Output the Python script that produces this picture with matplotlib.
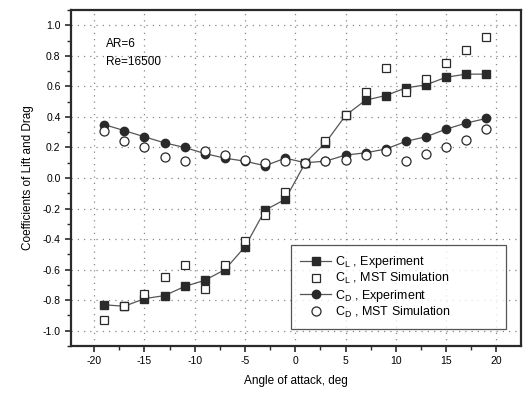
import numpy as np
import matplotlib
matplotlib.use('Agg')
import matplotlib.pyplot as plt
from matplotlib.ticker import MultipleLocator

plt.rcParams['font.family'] = ['Liberation Sans', 'DejaVu Sans']
plt.rcParams['axes.unicode_minus'] = False
plt.rcParams['mathtext.fontset'] = 'custom'
plt.rcParams['mathtext.rm'] = 'Liberation Sans'

# Angle of attack, deg
angle = [-19, -17, -15, -13, -11, -9, -7, -5, -3, -1,
         1, 3, 5, 7, 9, 11, 13, 15, 17, 19]

# Lift coefficient
cl_exp = [-0.83, -0.84, -0.79, -0.77, -0.71, -0.67, -0.60, -0.45, -0.21, -0.14,
          0.10, 0.23, 0.41, 0.51, 0.54, 0.59, 0.61, 0.66, 0.68, 0.68]
cl_sim = [-0.93, -0.84, -0.76, -0.65, -0.57, -0.73, -0.57, -0.41, -0.24, -0.09,
          0.10, 0.24, 0.41, 0.56, 0.72, 0.56, 0.65, 0.75, 0.84, 0.92]

# Drag coefficient
cd_exp = [0.35, 0.31, 0.27, 0.23, 0.20, 0.16, 0.13, 0.11, 0.08, 0.13,
          0.10, 0.11, 0.15, 0.165, 0.19, 0.24, 0.27, 0.32, 0.36, 0.39]
cd_sim = [0.31, 0.24, 0.20, 0.14, 0.11, 0.18, 0.15, 0.12, 0.10, 0.11,
          0.10, 0.11, 0.12, 0.15, 0.18, 0.11, 0.16, 0.20, 0.25, 0.32]

fig = plt.figure(figsize=(5.24, 4.0), dpi=100)
ax = fig.add_axes([0.1355, 0.135, 0.858, 0.84])

ink = '#2a2a2a'
ax.plot(angle, cl_exp, '-s', color='#555555', lw=0.9, ms=5.5,
        mfc=ink, mec=ink, label=r'C$_\mathrm{L}$ , Experiment', zorder=3)
ax.plot(angle, cl_sim, 's', ms=6.3, mfc='white', mec=ink, mew=0.9,
        label=r'C$_\mathrm{L}$ , MST Simulation', zorder=4)
ax.plot(angle, cd_exp, '-o', color='#555555', lw=0.9, ms=6,
        mfc=ink, mec=ink, label=r'C$_\mathrm{D}$ , Experiment', zorder=3)
ax.plot(angle, cd_sim, 'o', ms=6.5, mfc='white', mec=ink, mew=0.9,
        label=r'C$_\mathrm{D}$ , MST Simulation', zorder=4)

ax.set_xlim(-22.3, 22.4)
ax.set_ylim(-1.1, 1.1)
ax.xaxis.set_major_locator(MultipleLocator(5))
ax.xaxis.set_minor_locator(MultipleLocator(2.5))
ax.yaxis.set_minor_locator(MultipleLocator(0.1))
yt = np.round(np.arange(-1.0, 1.01, 0.2), 1)
ax.set_yticks(yt)
ax.set_yticklabels(['%.1f' % (v + 0.0) for v in yt])

ax.tick_params(which='both', direction='out', top=False, right=False,
               labelsize=7.5, color=ink)
ax.tick_params(which='major', length=4, width=1.2)
ax.tick_params(which='minor', length=3, width=1.0)
for s in ax.spines.values():
    s.set_linewidth(1.6)
    s.set_color(ink)

ax.grid(True, which='major', ls=(0, (1, 4)), color='#888888', lw=0.9)

ax.set_xlabel('Angle of attack, deg', fontsize=8.5, labelpad=6)
ax.set_ylabel('Coefficients of Lift and Drag', fontsize=8.5, labelpad=6)

ax.text(0.078, 0.89, 'AR=6', transform=ax.transAxes, fontsize=8.5)
ax.text(0.078, 0.835, 'Re=16500', transform=ax.transAxes, fontsize=8.5)

leg = ax.legend(loc='lower left', bbox_to_anchor=(0.476, 0.033, 0.506, 0.31),
                mode='expand', fontsize=9, frameon=True, fancybox=False,
                edgecolor=ink, handlelength=2.5, borderpad=0.7,
                labelspacing=0.1, handletextpad=0.3)
leg.get_frame().set_linewidth(0.9)

fig.savefig('out.png', dpi=100)
